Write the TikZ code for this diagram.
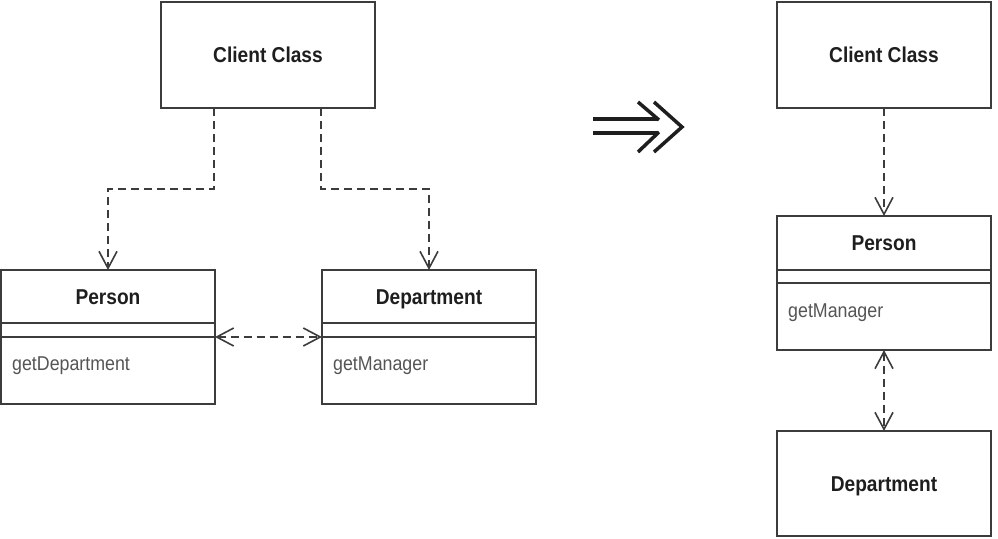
\documentclass[tikz,border=0pt]{standalone}
\usepackage{fontspec}
\newfontfamily\umlfont{Liberation Sans}[FakeStretch=0.89]
\definecolor{umlline}{RGB}{60, 60, 60}
\definecolor{umltext}{RGB}{30, 30, 30}
\definecolor{opgray}{RGB}{85, 85, 85}
\usetikzlibrary{arrows.meta, positioning, calc}

\begin{document}
\begin{tikzpicture}[x=1pt, y=-1pt,
  classbox/.style={draw=umlline, line width=1.8pt, outer sep=0pt, inner sep=0pt, minimum width=214pt,
    text height=15.5pt, text depth=0pt,
    font=\umlfont\fontsize{21.5}{24}\selectfont\bfseries, text=umltext},
  compbox/.style={classbox, text height=0pt},
  optext/.style={font=\umlfont\fontsize{20}{24}\selectfont, text=opgray, inner sep=0pt, anchor=west},
  dep/.style={draw=umlline, line width=1.6pt, dash pattern=on 8pt off 5pt,
    -{Straight Barb[length=17pt, width=18pt]}},
  depboth/.style={dep, {Straight Barb[length=17pt, width=18pt]}-{Straight Barb[length=17pt, width=18pt]}}]
  \useasboundingbox (0,0) rectangle (998,538);

  % Before: client uses Person and Department
  \node[classbox, minimum height=106pt] (lclient) at (268, 55) {Client Class};

  \node[classbox, minimum height=53pt] (pname) at (108, 296.5) {Person};
  \node[compbox, minimum height=14pt, below=0pt of pname] (pattr) {};
  \node[compbox, minimum height=67pt, below=0pt of pattr] (pops) {};
  \node[optext] (pget) at ([shift={(11pt,-28.5pt)}]pops.north west) {getDepartment};

  \node[classbox, minimum height=53pt] (dname) at (429, 296.5) {Department};
  \node[compbox, minimum height=14pt, below=0pt of dname] (dattr) {};
  \node[compbox, minimum height=67pt, below=0pt of dattr] (dops) {};
  \node[optext] (dget) at ([shift={(11pt,-28.5pt)}]dops.north west) {getManager};

  \coordinate (lturn) at (0, 189);
  \draw[dep] ([xshift=-54pt]lclient.south) |- (pname.north |- lturn) -- (pname.north);
  \draw[dep] ([xshift=53pt]lclient.south) |- (dname.north |- lturn) -- (dname.north);
  \draw[depboth] (pattr.south east) -- (dattr.south west);

  % Refactoring arrow
  \draw[umltext, line width=3.5pt] (593,119) -- (658,119) (593,133) -- (658,133);
  \draw[umltext, line width=3.5pt] (638,102) -- (659,120) (659,132) -- (638,152);
  \draw[umltext, line width=3.5pt, line join=miter] (654,102) -- (682,127) -- (654,152);

  % After: client uses Person only
  \node[classbox, minimum height=106pt] (rclient) at (884, 55) {Client Class};

  \node[classbox, minimum height=54pt] (rpname) at (884, 243) {Person};
  \node[compbox, minimum height=13pt, below=0pt of rpname] (rpattr) {};
  \node[compbox, minimum height=67pt, below=0pt of rpattr] (rpops) {};
  \node[optext] (rpget) at ([shift={(11pt,-29.5pt)}]rpops.north west) {getManager};

  \node[classbox, minimum height=105pt] (rdept) at (884, 483.5) {Department};

  \draw[dep] (rclient.south) -- (rpname.north);
  \draw[depboth] (rpops.south) -- (rdept.north);
\end{tikzpicture}
\end{document}
